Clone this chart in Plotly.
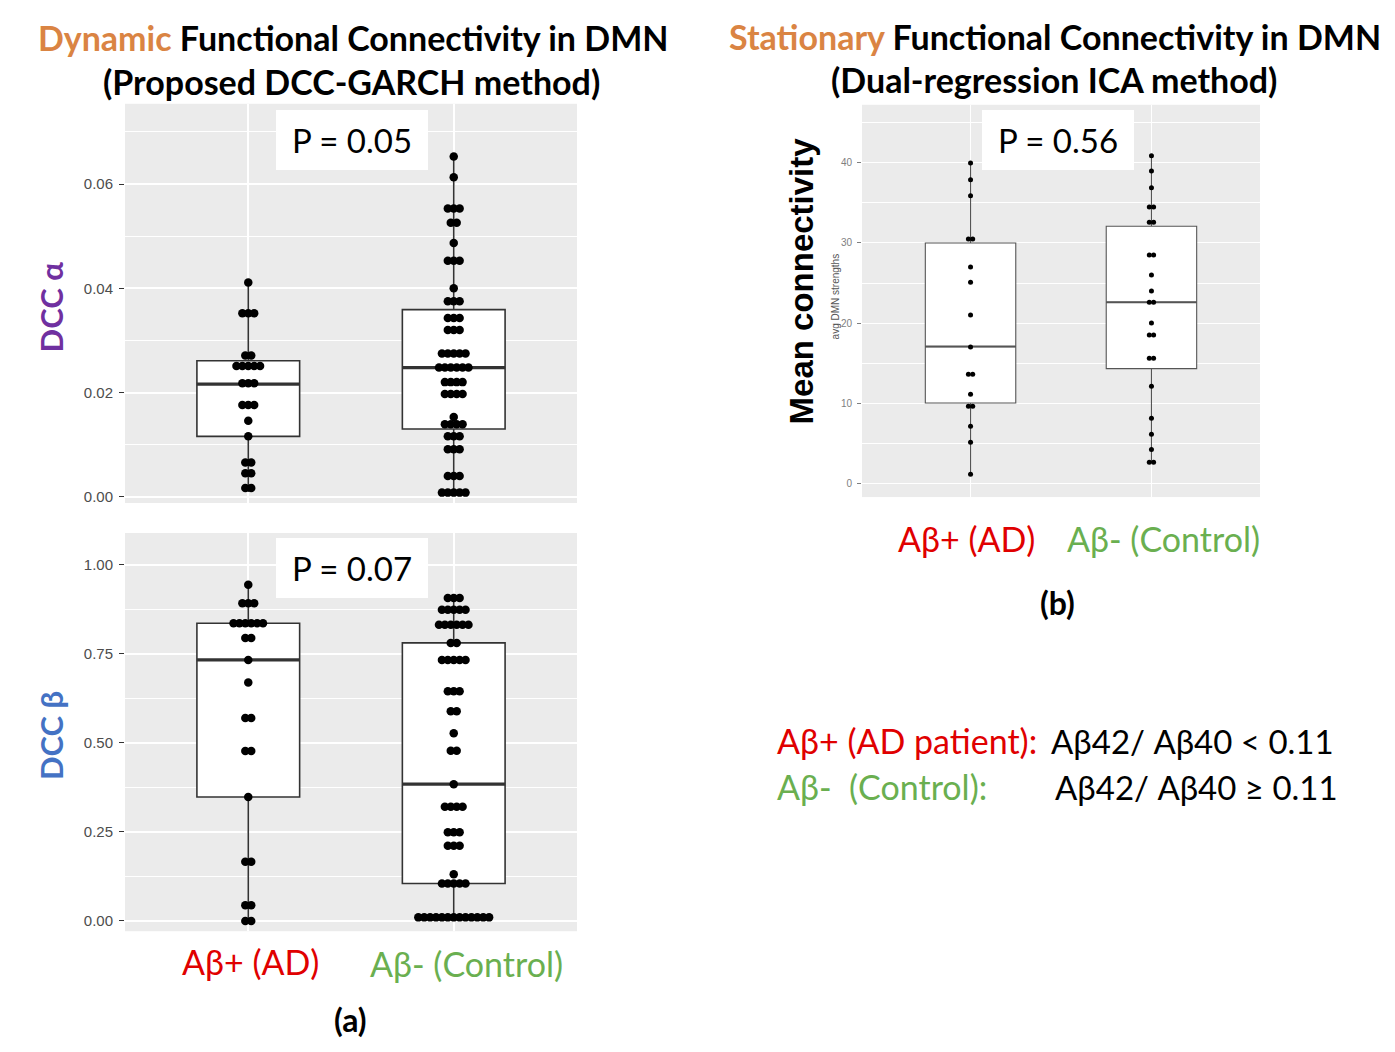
import plotly.graph_objects as go

W, H = 1395, 1052


def px(x):
    return x / W


def py(y):
    return 1 - y / H


# ---------------- data ----------------
groups = ["Aβ+ (AD)", "Aβ- (Control)"]
group_pos = [1, 2]

# DCC alpha (top-left)
alpha_ad = [0.0411,
            0.0352, 0.0352, 0.0352,
            0.0271, 0.0271,
            0.0251, 0.0251, 0.0251, 0.0251, 0.0251,
            0.0218, 0.0218, 0.0218,
            0.0176, 0.0176, 0.0176,
            0.0146,
            0.0116,
            0.0066, 0.0066,
            0.0045, 0.0045,
            0.0017, 0.0017]
alpha_ctrl = [0.0653,
              0.0613,
              0.0553, 0.0553, 0.0553,
              0.0526, 0.0526,
              0.0487,
              0.0453, 0.0453, 0.0453,
              0.0400,
              0.0375, 0.0375, 0.0375,
              0.0343, 0.0343, 0.0343,
              0.0320, 0.0320, 0.0320,
              0.0275, 0.0275, 0.0275, 0.0275, 0.0275,
              0.0248, 0.0248, 0.0248, 0.0248, 0.0248, 0.0248,
              0.0220, 0.0220, 0.0220, 0.0220,
              0.0197, 0.0197, 0.0197, 0.0197,
              0.0153,
              0.0139, 0.0139, 0.0139, 0.0139,
              0.0116, 0.0116, 0.0116,
              0.0091, 0.0091, 0.0091,
              0.0040, 0.0040, 0.0040,
              0.0008, 0.0008, 0.0008, 0.0008, 0.0008]
alpha_q1 = [0.0116, 0.0130]
alpha_median = [0.0216, 0.0248]
alpha_q3 = [0.0261, 0.0359]
alpha_low = [0.0009, 0.0006]
alpha_high = [0.0411, 0.0653]
alpha_ticks = [0.00, 0.02, 0.04, 0.06]
alpha_ticktext = ["0.00", "0.02", "0.04", "0.06"]
alpha_minor = [0.01, 0.03, 0.05, 0.07]

# DCC beta (bottom-left)
beta_ad = [0.944,
           0.892, 0.892, 0.892,
           0.836, 0.836, 0.836, 0.836, 0.836, 0.836,
           0.795, 0.795,
           0.733,
           0.670,
           0.570, 0.570,
           0.477, 0.477,
           0.348,
           0.166, 0.166,
           0.044, 0.044,
           0.000, 0.000]
beta_ctrl = [0.907, 0.907, 0.907,
             0.874, 0.874, 0.874, 0.874, 0.874,
             0.832, 0.832, 0.832, 0.832, 0.832, 0.832,
             0.781, 0.781,
             0.733, 0.733, 0.733, 0.733, 0.733,
             0.645, 0.645, 0.645,
             0.589, 0.589,
             0.527,
             0.478, 0.478,
             0.384,
             0.321, 0.321, 0.321, 0.321,
             0.249, 0.249, 0.249,
             0.211, 0.211, 0.211,
             0.131,
             0.105, 0.105, 0.105, 0.105, 0.105,
             0.010, 0.010, 0.010, 0.010, 0.010, 0.010, 0.010,
             0.010, 0.010, 0.010, 0.010, 0.010, 0.010]
beta_q1 = [0.348, 0.105]
beta_median = [0.733, 0.384]
beta_q3 = [0.836, 0.781]
beta_low = [0.000, 0.010]
beta_high = [0.944, 0.907]
beta_ticks = [0.00, 0.25, 0.50, 0.75, 1.00]
beta_ticktext = ["0.00", "0.25", "0.50", "0.75", "1.00"]
beta_minor = [0.125, 0.375, 0.625, 0.875]

# Stationary mean connectivity (right)
conn_ad = [40.0, 37.9, 35.9, 30.5, 30.5, 27.0, 25.1, 21.0, 17.0,
           13.6, 13.6, 11.1, 9.6, 9.6, 7.1, 5.1, 1.1]
conn_ctrl = [40.9, 39.0, 36.9, 34.5, 34.5, 32.6, 32.6, 28.5, 28.5,
             26.0, 24.0, 22.6, 22.6, 20.0, 18.5, 18.5, 15.6, 15.6,
             12.1, 8.1, 6.1, 4.2, 2.6, 2.6]
conn_q1 = [10.0, 14.3]
conn_median = [17.05, 22.6]
conn_q3 = [30.0, 32.1]
conn_low = [1.1, 2.6]
conn_high = [40.0, 40.9]
conn_ticks = [0, 10, 20, 30, 40]
conn_ticktext = ["0", "10", "20", "30", "40"]
conn_minor = [5, 15, 25, 35, 45]

p_values = ["P = 0.05", "P = 0.07", "P = 0.56"]

# ---------------- styling ----------------
ORANGE = "#DA8443"
PURPLE = "#7030A0"
BLUE = "#4472C4"
RED = "#E00000"
GREEN = "#6AAF50"
FONT = "Lato"

LEFT_X = (125, 577)
TOP_Y = (104, 504)
BOT_Y = (534, 933)
RIGHT_X = (862, 1260)
RIGHT_Y = (105, 498)
XRANGE = [0.4, 2.6]


def stack(values, center, spacing):
    counts = {}
    for v in values:
        counts[v] = counts.get(v, 0) + 1
    xs, ys = [], []
    for v, n in counts.items():
        for i in range(n):
            xs.append(center + (i - (n - 1) / 2) * spacing)
            ys.append(v)
    return xs, ys


fig = go.Figure()

left_unit = (LEFT_X[1] - LEFT_X[0]) / (XRANGE[1] - XRANGE[0])
right_unit = (RIGHT_X[1] - RIGHT_X[0]) / (XRANGE[1] - XRANGE[0])

panels = [
    ("x", "y", [alpha_ad, alpha_ctrl], alpha_q1, alpha_median, alpha_q3, alpha_low, alpha_high,
     5.9 / left_unit, 8.5, "#333333", 1.6, 3.2),
    ("x2", "y2", [beta_ad, beta_ctrl], beta_q1, beta_median, beta_q3, beta_low, beta_high,
     5.9 / left_unit, 8.5, "#333333", 1.6, 3.2),
    ("x3", "y3", [conn_ad, conn_ctrl], conn_q1, conn_median, conn_q3, conn_low, conn_high,
     4.3 / right_unit, 5, "#555555", 1.1, 2.0),
]

BOX_W = 0.5
for xa, ya, vals, q1, med, q3, lo, hi, sp, msize, lcol, lw, mw in panels:
    fig.add_trace(go.Box(
        x=group_pos, q1=q1, median=med, q3=q3, lowerfence=lo, upperfence=hi,
        width=BOX_W, fillcolor="white", line=dict(color=lcol, width=lw),
        whiskerwidth=0, boxpoints=False, xaxis=xa, yaxis=ya,
        showlegend=False, hoverinfo="skip"))
    mx, my = [], []
    for c, m in zip(group_pos, med):
        mx += [c - BOX_W / 2, c + BOX_W / 2, None]
        my += [m, m, None]
    fig.add_trace(go.Scatter(x=mx, y=my, mode="lines",
                             line=dict(color=lcol, width=mw),
                             xaxis=xa, yaxis=ya, showlegend=False, hoverinfo="skip"))
    for c, v in zip(group_pos, vals):
        xs, ys = stack(v, c, sp)
        fig.add_trace(go.Scatter(x=xs, y=ys, mode="markers",
                                 marker=dict(color="black", size=msize, line=dict(width=0)),
                                 xaxis=xa, yaxis=ya, showlegend=False, hoverinfo="skip"))


def xaxis_cfg(xr, anchor, gw):
    return dict(domain=[px(xr[0]), px(xr[1])], anchor=anchor, range=XRANGE,
                tickvals=group_pos, showticklabels=False, ticks="",
                showgrid=True, gridcolor="white", gridwidth=gw,
                zeroline=False, showline=False, fixedrange=True)


def yaxis_cfg(yr, anchor, rng, tv, tt, minor, fsize, fcol, tcol, tlen, gw, mgw, standoff):
    return dict(domain=[py(yr[1]), py(yr[0])], anchor=anchor, range=rng,
                tickvals=tv, ticktext=tt, ticks="outside", ticklen=tlen,
                tickwidth=1.3, tickcolor=tcol,
                tickfont=dict(family="Liberation Sans", size=fsize, color=fcol),
                showgrid=True, gridcolor="white", gridwidth=gw,
                minor=dict(tickvals=minor, showgrid=True, gridcolor="white",
                           gridwidth=mgw, ticks=""),
                zeroline=False, showline=False, fixedrange=True,
                ticklabelstandoff=standoff)


fig.update_layout(
    width=W, height=H, margin=dict(l=0, r=0, t=0, b=0),
    paper_bgcolor="white", plot_bgcolor="#EBEBEB",
    font=dict(family=FONT, color="black"),
    xaxis=xaxis_cfg(LEFT_X, "y", 1.8),
    yaxis=yaxis_cfg(TOP_Y, "x", [-0.0012, 0.0754], alpha_ticks, alpha_ticktext,
                    alpha_minor, 15, "#4D4D4D", "#333333", 5, 1.8, 0.9, 3),
    xaxis2=xaxis_cfg(LEFT_X, "y2", 1.8),
    yaxis2=yaxis_cfg(BOT_Y, "x2", [-0.0289, 1.0897], beta_ticks, beta_ticktext,
                     beta_minor, 15, "#4D4D4D", "#333333", 5, 1.8, 0.9, 3),
    xaxis3=xaxis_cfg(RIGHT_X, "y3", 1.2),
    yaxis3=yaxis_cfg(RIGHT_Y, "x3", [-1.75, 47.27], conn_ticks, conn_ticktext,
                     conn_minor, 10, "#7F7F7F", "#7F7F7F", 4, 1.2, 0.6, 3),
)

ann = []


def add(text, x, y, size, color="black", angle=0, xanchor="center", bold=False,
        family=FONT, **kw):
    if bold:
        text = "<b>" + text + "</b>"
    ann.append(dict(text=text, x=px(x), y=py(y), xref="paper", yref="paper",
                    xanchor=xanchor, yanchor="middle", showarrow=False,
                    textangle=angle,
                    font=dict(family=family, size=size, color=color), **kw))


# titles
add(f"<span style='color:{ORANGE}'>Dynamic</span> Functional Connectivity in DMN",
    352.5, 38, 34, bold=True)
add("(Proposed DCC-GARCH method)", 351.5, 82, 34, bold=True)
add(f"<span style='color:{ORANGE}'>Stationary</span> Functional Connectivity in DMN",
    1054.5, 37, 34, bold=True)
add("(Dual-regression ICA method)", 1054, 80, 34, bold=True)

# p-value boxes
for txt, (cx, cy) in zip(p_values, [(352, 140), (352, 569), (1058, 140.5)]):
    add(txt, cx, cy, 33, bgcolor="white", width=152, height=60,
        borderpad=0, borderwidth=0, align="center", valign="middle")

# y-axis titles
add("DCC α", 50.5, 307.5, 31, color=PURPLE, angle=-90, bold=True)
add("DCC β", 50.5, 737, 31, color=BLUE, angle=-90, bold=True)
add("Mean connectivity", 801, 282, 33, angle=-90, bold=True, family="Liberation Sans")
add("avg DMN strengths", 835, 297, 10, color="#555555", angle=-90, family="Liberation Sans")

# group labels
add(groups[0], 250, 963, 34, color=RED)
add(groups[1], 467, 965, 34, color=GREEN)
add("(a)", 351, 1021, 32, bold=True)
add(groups[0], 966, 540, 34, color=RED)
add(groups[1], 1163, 540, 34, color=GREEN)
add("(b)", 1057, 604, 32, bold=True)

# definitions
add("Aβ+ (AD patient):", 775, 742, 34, color=RED, xanchor="left")
add("Aβ42/ Aβ40 &lt; 0.11", 1049, 742, 33, xanchor="left")
add("Aβ-&nbsp; (Control):", 775, 788, 34, color=GREEN, xanchor="left")
add("Aβ42/ Aβ40 ≥ 0.11", 1053, 788, 33, xanchor="left")

fig.update_layout(annotations=ann)

fig.write_html("out.html",
               config={"displayModeBar": False},
               post_script="document.body.style.margin='0';document.body.style.padding='0';")
